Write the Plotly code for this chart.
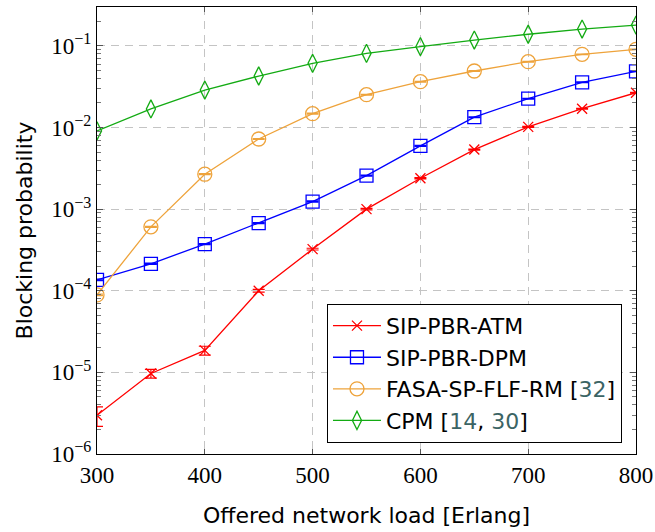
import plotly.graph_objects as go

load = [300, 350, 400, 450, 500, 550, 600, 650, 700, 750, 800]

atm = [2.98e-6, 9.7e-6, 1.86e-5, 1.0e-4, 3.24e-4, 1.0e-3, 2.39e-3, 5.37e-3, 1.02e-2, 1.70e-2, 2.67e-2]
atm_err = [0.8e-6, 1.2e-6, 2.3e-6, 4e-6, 8e-6, 2e-5, 4e-5, 8e-5, 1.5e-4, 2e-4, 3e-4]

dpm = [1.36e-4, 2.14e-4, 3.73e-4, 6.75e-4, 1.24e-3, 2.58e-3, 5.96e-3, 1.34e-2, 2.26e-2, 3.58e-2, 4.89e-2]
dpm_err = [3e-6, 4e-6, 6e-6, 1e-5, 2e-5, 4e-5, 8e-5, 1.5e-4, 2.5e-4, 4e-4, 5e-4]

fasa = [8.9e-5, 6.07e-4, 2.68e-3, 7.24e-3, 1.48e-2, 2.53e-2, 3.65e-2, 4.93e-2, 6.41e-2, 7.89e-2, 9.08e-2]
fasa_err = [2e-6, 1e-5, 4e-5, 1e-4, 2e-4, 3e-4, 4e-4, 5e-4, 6e-4, 7e-4, 8e-4]

cpm = [9.1e-3, 1.69e-2, 2.88e-2, 4.28e-2, 6.12e-2, 8.1e-2, 9.8e-2, 1.18e-1, 1.39e-1, 1.61e-1, 1.80e-1]

names = [
    "SIP-PBR-ATM",
    "SIP-PBR-DPM",
    "FASA-SP-FLF-RM [<span style='color:#3b6464'>32</span>]",
    "CPM [<span style='color:#3b6464'>14</span>, <span style='color:#3b6464'>30</span>]",
]
colors = ["#ff0000", "#0000ff", "#eea33b", "#13ab13"]
symbols = ["x-thin-open", "square-open", "circle-open", "diamond-tall-open"]
sizes = [10, 13, 14, 13]

series = [(atm, atm_err), (dpm, dpm_err), (fasa, fasa_err), (cpm, None)]

fig = go.Figure()
for (vals, err), name, c, s, sz in zip(series, names, colors, symbols, sizes):
    kw = {}
    if err is not None:
        kw["error_y"] = dict(type="data", array=err, visible=True, color=c,
                             thickness=1.2, width=6)
    fig.add_trace(go.Scatter(
        x=load, y=vals, name=name, mode="lines+markers",
        line=dict(color=c, width=1.3),
        marker=dict(symbol=s, size=sz, color=c, line=dict(color=c, width=1.3)),
        **kw,
    ))

tick_font = dict(family="Liberation Serif, DejaVu Serif, serif", size=23, color="#000")
sans = "DejaVu Sans, Open Sans, sans-serif"
title_font = dict(family=sans, size=22, color="#000")

yt = [1e-6, 1e-5, 1e-4, 1e-3, 1e-2, 1e-1]
yt_text = ["10<sup>−6</sup>", "10<sup>−5</sup>", "10<sup>−4</sup>",
           "10<sup>−3</sup>", "10<sup>−2</sup>", "10<sup>−1</sup>"]

fig.update_layout(
    width=655, height=532,
    margin=dict(l=97, r=19, t=7, b=78, autoexpand=False),
    paper_bgcolor="white", plot_bgcolor="white",
    showlegend=True,
    legend=dict(
        x=0.974, xanchor="right", y=0.025, yanchor="bottom",
        bordercolor="#000", borderwidth=1, bgcolor="white",
        font=dict(family=sans, size=22, color="#000"),
        tracegroupgap=0, itemwidth=48,
    ),
    xaxis=dict(
        range=[300, 800], tickvals=[300, 400, 500, 600, 700, 800],
        ticks="inside", ticklen=5, tickcolor="#555",
        showline=True, linecolor="#000", linewidth=1.2, mirror="ticks",
        showgrid=True, gridcolor="#c4c4c4", griddash="8px,6px", gridwidth=1,
        tickfont=tick_font, zeroline=False, automargin=False,
        title=dict(text="Offered network load [Erlang]", font=title_font, standoff=20),
    ),
    yaxis=dict(
        type="log", range=[-6, -0.523],
        tickvals=yt, ticktext=yt_text,
        ticks="inside", ticklen=6, tickcolor="#555",
        minor=dict(ticks="inside", ticklen=3.5, tickcolor="#777", dtick="D1", showgrid=False),
        showline=True, linecolor="#000", linewidth=1.2, mirror="ticks",
        showgrid=True, gridcolor="#c4c4c4", griddash="8px,6px", gridwidth=1,
        tickfont=tick_font, zeroline=False, automargin=False,
        title=dict(text="Blocking probability", font=title_font, standoff=12),
    ),
)

fig.write_html("out.html", config={"displayModeBar": False},
               post_script="document.body.style.margin='0';")
